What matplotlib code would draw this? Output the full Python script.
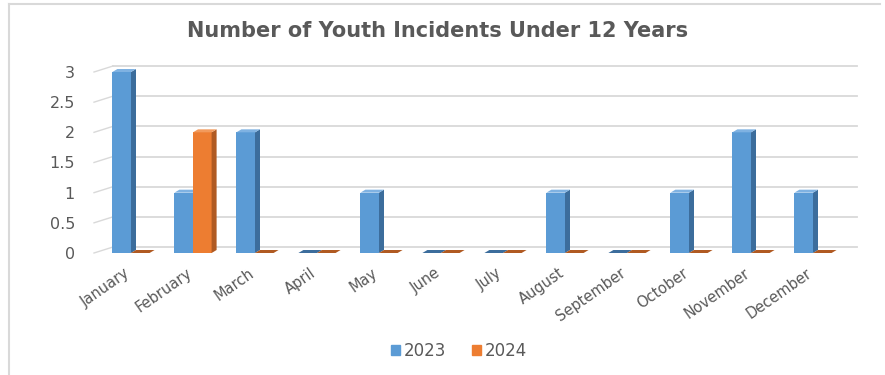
"""
Monthly youth incidents (under 12) - 3D-style clustered column chart.
"""
import matplotlib.pyplot as plt
import matplotlib.patches as mpatches
import matplotlib.transforms as mtransforms
import numpy as np
from matplotlib.lines import Line2D

MONTHS = ["January", "February", "March", "April", "May", "June", "July",
          "August", "September", "October", "November", "December"]
INCIDENTS_2023 = [3, 1, 2, 0, 1, 0, 0, 1, 0, 1, 2, 1]
INCIDENTS_2024 = [0, 2, 0, 0, 0, 0, 0, 0, 0, 0, 0, 0]
YEARS = ["2023", "2024"]
Y_TICKS = [0, 0.5, 1, 1.5, 2, 2.5, 3]

# (front, side, top) shades per series
SHADES = {
    "2023": ("#5b9bd5", "#3c6d9c", "#7fb2e2"),
    "2024": ("#ed7d31", "#b05a22", "#f29a5c"),
}
GRID = "#d9d9d9"
TEXT = "#595959"

W, H, DPI = 8.85, 3.75, 100
plt.rcParams["font.family"] = ["DejaVu Sans"]
fig = plt.figure(figsize=(W, H), dpi=DPI)

# axes placed in pixels (front plane of the chart)
L_PX, R_PX, B_PX, T_PX = 100, 844, 253, 72
ax = fig.add_axes([L_PX / 885, (375 - B_PX) / 375,
                   (R_PX - L_PX) / 885, (B_PX - T_PX) / 375])
ax.set_xlim(-0.5, 11.5)
ax.set_ylim(0, 3)
for s in ax.spines.values():
    s.set_visible(False)

# pixel -> data unit conversions for the depth effect
px_x = 12 / (R_PX - L_PX)
px_y = 3 / (B_PX - T_PX)

# back-wall gridlines, shifted back and up, with floor stubs on the left
wall_dx, wall_dy = 13 * px_x, 6 * px_y
for v in Y_TICKS:
    ax.plot([-0.5 + wall_dx, 11.5 + wall_dx], [v + wall_dy, v + wall_dy],
            color=GRID, lw=1.3, clip_on=False, zorder=0)
    ax.plot([-0.5 - 6 * px_x, -0.5 + wall_dx], [v, v + wall_dy],
            color=GRID, lw=1.0, clip_on=False, zorder=0)

# bars with side and top faces
x = np.arange(len(MONTHS))
width = 0.3
depth_dx, depth_dy = 5 * px_x, 3 * px_y
for series, offset, key in [(INCIDENTS_2023, -0.15, "2023"),
                            (INCIDENTS_2024, 0.15, "2024")]:
    front, side, top = SHADES[key]
    for xi, h in zip(x, series):
        x0 = xi + offset - width / 2
        x1 = x0 + width
        if h > 0:
            ax.add_patch(mpatches.Rectangle((x0, 0), width, h, facecolor=front,
                                            edgecolor="none", zorder=3))
            ax.add_patch(mpatches.Polygon(
                [(x1, 0), (x1, h), (x1 + depth_dx, h + depth_dy),
                 (x1 + depth_dx, depth_dy)],
                closed=True, facecolor=side, edgecolor="none", zorder=3,
                clip_on=False))
        ax.add_patch(mpatches.Polygon(
            [(x0, h), (x1, h), (x1 + depth_dx, h + depth_dy),
             (x0 + depth_dx, h + depth_dy)],
            closed=True, facecolor=top if h > 0 else side, edgecolor="none",
            zorder=3, clip_on=False))

ax.set_yticks(Y_TICKS)
ax.set_yticklabels(["0", "0.5", "1", "1.5", "2", "2.5", "3"])
ax.tick_params(axis="y", length=0, pad=18, labelsize=11.5, labelcolor=TEXT)
ax.set_xticks(x)
ax.set_xticklabels(MONTHS, rotation=35, ha="right", va="top",
                   rotation_mode="anchor")
ax.tick_params(axis="x", length=0, pad=9, labelsize=10.5, labelcolor=TEXT)
shift = mtransforms.ScaledTranslation(-7 / DPI, 0, fig.dpi_scale_trans)
for lbl in ax.get_xticklabels():
    lbl.set_transform(lbl.get_transform() + shift)

fig.text(438 / 885, 0.917, "Number of Youth Incidents Under 12 Years",
         ha="center", va="center", fontsize=15, fontweight="bold",
         color=TEXT)

handles = [mpatches.Patch(color=SHADES[k][0]) for k in YEARS]
fig.legend(handles, YEARS, loc="center", bbox_to_anchor=(459 / 885, 0.064),
           ncol=2, frameon=False, fontsize=12, labelcolor=TEXT,
           handlelength=0.55, handleheight=0.55, handletextpad=0.25,
           columnspacing=1.5)

# outer chart frame (top and left edges)
fig.add_artist(Line2D([9 / 885, 880 / 885], [371 / 375, 371 / 375],
                      color=GRID, lw=1.5))
fig.add_artist(Line2D([9 / 885, 9 / 885], [0, 371 / 375], color=GRID, lw=1.5))

fig.savefig("out.png", dpi=DPI)
